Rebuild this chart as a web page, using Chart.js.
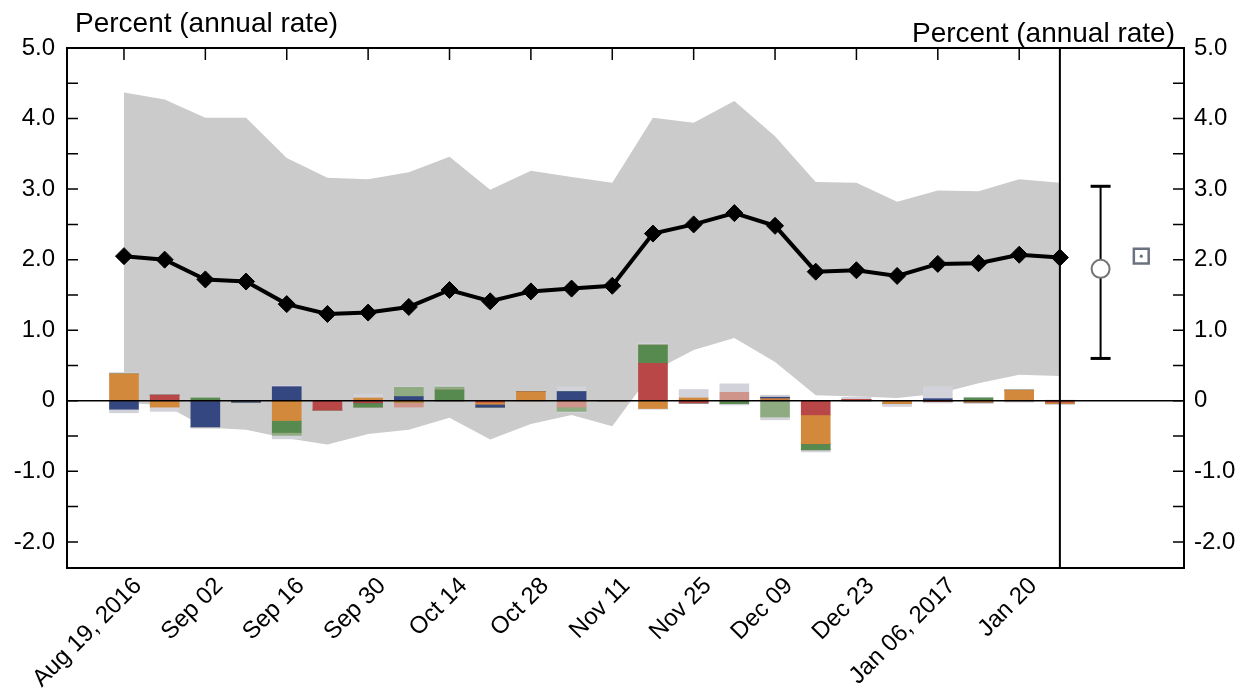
<!DOCTYPE html>
<html lang="en">
<head>
  <meta charset="UTF-8">
  <title>Nowcast</title>
  <script src="https://cdn.jsdelivr.net/npm/chart.js"></script>
  <style>
    body {
      margin: 0;
      background: #fff;
      font-family: "Liberation Sans", Arial, sans-serif;
    }
    #wrap {
      position: relative;
      width: 1240px;
      height: 689px;
    }
    .unit {
      position: absolute;
      font-size: 28px;
      line-height: 28px;
      color: #000;
      white-space: nowrap;
    }
    #unitLeft { left: 75px; top: 9px; }
    #unitRight { right: 65px; top: 19px; }
  </style>
</head>
<body>
  <div id="wrap">
    <canvas id="chart" width="1240" height="689"></canvas>
    <div class="unit" id="unitLeft">Percent (annual rate)</div>
    <div class="unit" id="unitRight">Percent (annual rate)</div>
  </div>

  <script>
    // weekly release dates
    const weeks = [
      "Aug 19, 2016", "Aug 26", "Sep 02", "Sep 09", "Sep 16", "Sep 23", "Sep 30", "Oct 07",
      "Oct 14", "Oct 21", "Oct 28", "Nov 04", "Nov 11", "Nov 18", "Nov 25", "Dec 02",
      "Dec 09", "Dec 16", "Dec 23", "Dec 30", "Jan 06, 2017", "Jan 13", "Jan 20", "Jan 27"
    ];
    const tickWeeks = [0, 2, 4, 6, 8, 10, 12, 14, 16, 18, 20, 22];
    const yTicks = [-2, -1, 0, 1, 2, 3, 4, 5];

    // nowcast and the band around it
    const nowcast = [2.05, 2.00, 1.72, 1.69, 1.37, 1.23, 1.25, 1.33, 1.57, 1.41, 1.55, 1.59,
                     1.63, 2.37, 2.50, 2.66, 2.48, 1.83, 1.85, 1.77, 1.94, 1.95, 2.07, 2.03];
    const bandHigh = [4.37, 4.27, 4.01, 4.01, 3.44, 3.16, 3.14, 3.24, 3.46, 2.99, 3.26, 3.17,
                      3.09, 4.01, 3.94, 4.25, 3.75, 3.10, 3.09, 2.82, 2.98, 2.97, 3.14, 3.09];
    const bandLow = [-0.03, -0.06, -0.38, -0.41, -0.53, -0.62, -0.47, -0.41, -0.24, -0.55, -0.33, -0.20,
                     -0.36, 0.42, 0.72, 0.89, 0.55, 0.08, 0.06, 0.04, 0.10, 0.25, 0.37, 0.35];

    // contributions of news by category
    const newsRed    = [0, 0.08, 0, 0, 0, -0.13, -0.03, 0, 0, -0.02, 0, 0,
                        0, 0.53, -0.03, 0, 0.01, -0.20, 0.02, 0, -0.01, 0, 0, -0.02];
    const newsOrange = [0.38, -0.09, 0, 0, -0.28, 0, 0.04, -0.02, 0, -0.03, 0.13, 0,
                        0, -0.11, 0.04, 0, 0.02, -0.41, 0, -0.04, 0, -0.02, 0.15, -0.02];
    const newsNavy   = [-0.12, 0, -0.37, -0.02, 0.20, 0, 0, 0.06, 0, -0.04, 0, 0.13,
                        0, 0, 0, 0, 0.02, 0, 0, 0, 0.03, 0, 0, 0];
    const newsGreen  = [0, 0, 0.04, 0, -0.17, 0, -0.06, 0, 0.155, 0, 0, 0,
                        0, 0.26, 0, -0.04, 0, -0.085, 0, 0, 0, 0.04, 0, 0];
    const newsPink   = [0, 0, 0, 0, 0, 0, 0, -0.07, 0, 0, 0, -0.09,
                        0, 0, 0, 0.12, 0, 0, 0, 0, 0, 0, 0, 0];
    const newsLight  = [0, 0, 0, 0, -0.04, 0, 0, 0.13, 0.04, 0, 0, -0.06,
                        0, 0, 0, 0, -0.23, 0, 0, 0, 0, 0, 0, 0];
    const otherUp    = [0.02, 0.01, 0, 0, 0.02, 0, 0.05, 0.01, 0.02, 0, 0, 0.07,
                        0, 0.03, 0.12, 0.12, 0.03, 0, 0.03, 0, 0.17, 0.01, 0.01, 0.01];
    const otherDown  = [-0.05, -0.06, -0.02, 0, -0.05, 0, 0, 0, 0, -0.01, 0, -0.02,
                        0, -0.01, -0.01, -0.02, -0.04, -0.03, -0.01, -0.04, -0.02, -0.02, -0.02, -0.015];

    // advance estimate range and actual release
    const advance = [1.87];
    const advanceRange = [0.60, 3.04];
    const actual = [2.05];

    const last = weeks.length - 1;
    const pts = (arr) => arr.map((v, i) => ({ x: i, y: v }));

    function barSet(label, values, color) {
      return {
        type: "bar",
        label: label,
        data: pts(values),
        backgroundColor: color,
        borderWidth: 0,
        barThickness: 29,
        stack: "news",
        yAxisID: "y",
        order: 5
      };
    }

    const framePlugin = {
      id: "frame",
      beforeDatasetDraw(chart, args) {
        if (chart.data.datasets[args.index].label !== "Nowcast") return;
        const { ctx, chartArea: a, scales: { x, y } } = chart;
        ctx.save();
        ctx.strokeStyle = "#000";
        ctx.lineWidth = 1.6;
        const y0 = y.getPixelForValue(0);
        ctx.beginPath();
        ctx.moveTo(a.left, y0);
        ctx.lineTo(a.right, y0);
        ctx.stroke();
        const xl = x.getPixelForValue(last);
        ctx.lineWidth = 2;
        ctx.beginPath();
        ctx.moveTo(xl, a.top);
        ctx.lineTo(xl, a.bottom);
        ctx.stroke();
        ctx.restore();
      },
      afterDraw(chart) {
        const { ctx, chartArea: a, scales: { x, y } } = chart;
        ctx.save();
        ctx.strokeStyle = "#000";
        ctx.lineWidth = 1.5;
        ctx.beginPath();
        for (const t of tickWeeks) {
          const px = x.getPixelForValue(t);
          ctx.moveTo(px, a.top);
          ctx.lineTo(px, a.top + 12);
        }
        for (let v = -2; v < 5; v += 0.5) {
          const py = y.getPixelForValue(v);
          ctx.moveTo(a.left, py);
          ctx.lineTo(a.left + 11, py);
          ctx.moveTo(a.right, py);
          ctx.lineTo(a.right - 11, py);
        }
        ctx.stroke();
        ctx.lineWidth = 2;
        ctx.strokeRect(a.left, a.top, a.right - a.left, a.bottom - a.top);
        ctx.restore();
      }
    };

    const tickFont = { family: "Liberation Sans", size: 24 };

    new Chart(document.getElementById("chart"), {
      data: {
        datasets: [
          {
            type: "line",
            label: "Band high",
            data: pts(bandHigh),
            yAxisID: "y2",
            borderWidth: 0,
            pointRadius: 0,
            backgroundColor: "#cbcbcb",
            fill: "+1",
            order: 10
          },
          {
            type: "line",
            label: "Band low",
            data: pts(bandLow),
            yAxisID: "y2",
            borderWidth: 0,
            pointRadius: 0,
            fill: false,
            order: 10
          },
          barSet("Red", newsRed, "#b94747"),
          barSet("Orange", newsOrange, "#d3893c"),
          barSet("Navy", newsNavy, "#344780"),
          barSet("Green", newsGreen, "#578a4e"),
          barSet("Pink", newsPink, "#cf958b"),
          barSet("Light green", newsLight, "#8eab82"),
          barSet("Other up", otherUp, "#d2d2da"),
          barSet("Other down", otherDown, "#d2d2da"),
          {
            type: "line",
            label: "Nowcast",
            data: pts(nowcast),
            yAxisID: "y2",
            borderColor: "#000",
            borderWidth: 4,
            tension: 0,
            pointStyle: "rectRot",
            pointRadius: 8.5,
            pointBackgroundColor: "#000",
            pointBorderColor: "#000",
            pointBorderWidth: 1,
            order: 1
          },
          {
            type: "line",
            label: "Advance range",
            data: advanceRange.map(v => ({ x: weeks.length, y: v })),
            yAxisID: "y2",
            borderColor: "#000",
            borderWidth: 2,
            pointStyle: "line",
            pointRadius: 10,
            pointBorderColor: "#000",
            pointBorderWidth: 3,
            order: 1
          },
          {
            type: "line",
            label: "Advance",
            data: advance.map(v => ({ x: weeks.length, y: v })),
            yAxisID: "y2",
            showLine: false,
            pointStyle: "circle",
            pointRadius: 9,
            pointBackgroundColor: "#fff",
            pointBorderColor: "#747474",
            pointBorderWidth: 2,
            order: 0
          },
          {
            type: "line",
            label: "Actual",
            data: actual.map(v => ({ x: weeks.length + 1, y: v })),
            yAxisID: "y2",
            showLine: false,
            pointStyle: "rect",
            pointRadius: 10.5,
            pointBackgroundColor: "#fff",
            pointBorderColor: "#6b7180",
            pointBorderWidth: 2.5,
            order: 0
          },
          {
            type: "line",
            label: "Actual dot",
            data: actual.map(v => ({ x: weeks.length + 1, y: v })),
            yAxisID: "y2",
            showLine: false,
            pointStyle: "circle",
            pointRadius: 1.6,
            pointBackgroundColor: "#6b7180",
            pointBorderWidth: 0,
            order: -1
          }
        ]
      },
      options: {
        responsive: false,
        animation: false,
        layout: { padding: { top: 48, left: 0, right: 0, bottom: 0 } },
        plugins: {
          legend: { display: false },
          tooltip: { enabled: false }
        },
        scales: {
          x: {
            type: "linear",
            offset: false,
            min: -1.4,
            max: 26.05,
            grid: { display: false, drawTicks: false },
            border: { display: false },
            afterBuildTicks: (s) => { s.ticks = tickWeeks.map(v => ({ value: v })); },
            afterFit: (s) => { s.height = 121; },
            ticks: {
              autoSkip: false,
              maxRotation: 45,
              minRotation: 45,
              padding: 4,
              labelOffset: 14,
              color: "#000",
              font: tickFont,
              callback: (v) => weeks[v]
            }
          },
          y: {
            position: "left",
            stacked: true,
            min: -2.37,
            max: 5,
            grid: { display: false, drawTicks: false },
            border: { display: false },
            afterBuildTicks: (s) => { s.ticks = yTicks.map(v => ({ value: v })); },
            afterFit: (s) => { s.width = 67; },
            ticks: {
              padding: 12,
              color: "#000",
              font: tickFont,
              callback: (v) => v === 0 ? "0" : v.toFixed(1)
            }
          },
          y2: {
            position: "right",
            min: -2.37,
            max: 5,
            grid: { display: false, drawTicks: false },
            border: { display: false },
            afterBuildTicks: (s) => { s.ticks = yTicks.map(v => ({ value: v })); },
            afterFit: (s) => { s.width = 56; },
            ticks: {
              padding: 10,
              color: "#000",
              font: tickFont,
              callback: (v) => v === 0 ? "0" : v.toFixed(1)
            }
          }
        }
      },
      plugins: [framePlugin]
    });
  </script>
</body>
</html>
